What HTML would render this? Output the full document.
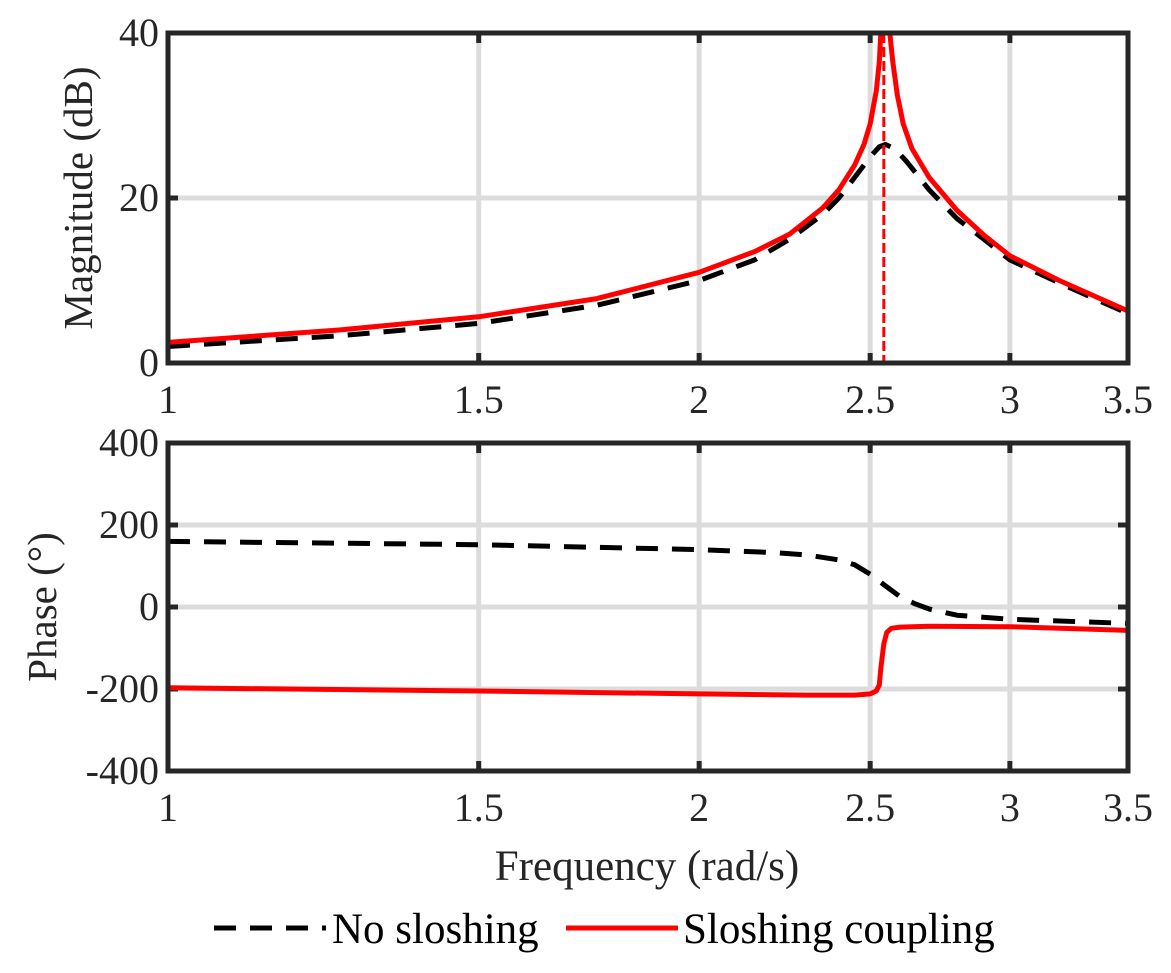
<!DOCTYPE html>
<html><head><meta charset="utf-8"><style>
body{margin:0;background:#fff;}
svg{display:block;font-family:"Liberation Serif",serif;}
</style></head><body>
<svg id="c" width="1171" height="973"></svg>
<script>
const xTicks=[1,1.5,2,2.5,3,3.5];
const xTickLabels=["1","1.5","2","2.5","3","3.5"];
const magTicks=[0,20,40];
const phaseTicks=[-400,-200,0,200,400];
const freqNo=[1,1.25,1.5,1.75,2,2.15,2.25,2.35,2.4,2.45,2.5,2.53,2.55,2.58,2.62,2.7,2.8,2.9,3,3.2,3.5];
const magNo=[2,3.3,4.8,7,10,12.5,15,18,20,22.5,25,26.2,26.5,26,24.5,21,17.5,15,12.5,9.7,6];
const freqSl=[1,1.25,1.5,1.75,2,2.15,2.25,2.35,2.4,2.45,2.48,2.5,2.52,2.53,2.535,2.545,2.555,2.565,2.575,2.59,2.61,2.64,2.7,2.8,2.9,3,3.2,3.5];
const magSl=[2.5,4,5.6,7.8,11,13.5,15.6,18.8,21,24,26.5,29,33,36.5,40,44,44,40,36.5,32.5,29,26,22.5,18.5,15.5,13,10,6.3];
const phFreqNo=[1,1.5,2,2.2,2.3,2.4,2.45,2.5,2.55,2.6,2.65,2.7,2.8,3,3.5];
const phaseNo=[160,152,140,133,127,115,103,80,52,25,8,-5,-20,-30,-40];
const phFreqSl=[1,1.5,2,2.3,2.45,2.5,2.52,2.53,2.535,2.545,2.555,2.57,2.6,2.7,3,3.5];
const phaseSl=[-197,-205,-212,-215,-215,-212,-205,-190,-150,-90,-62,-52,-49,-47,-48,-57];
const markerFreq=2.545;

const NS="http://www.w3.org/2000/svg";
const svg=document.getElementById('c');
function el(t,a,p){const e=document.createElementNS(NS,t);for(const k in a)e.setAttribute(k,a[k]);(p||svg).appendChild(e);return e;}
const X0=168,X1=1128;
const sx=f=>X0+(Math.log10(f)/Math.log10(3.5))*(X1-X0);
const axTop={y0:33,y1:363,min:0,max:40};
const axBot={y0:443,y1:771,min:-400,max:400};
const sy=(ax,v)=>ax.y1-(v-ax.min)/(ax.max-ax.min)*(ax.y1-ax.y0);

function axes(ax,yt,name,ylab,labX){
  const g=el('g',{});
  
  
  const cp=el('clipPath',{id:name+'-clip'},g);
  el('rect',{x:X0,y:ax.y0,width:X1-X0,height:ax.y1-ax.y0},cp);
  xTicks.forEach((t,i)=>{const x=sx(t);
    if(i>0&&i<xTicks.length-1){const l=el('line',{x1:x,x2:x,y1:ax.y0,y2:ax.y1,stroke:'#dcdcdc','stroke-width':5},g);
      }
    el('line',{x1:x,x2:x,y1:ax.y1,y2:ax.y1-10,stroke:'#262626','stroke-width':5},g);
    el('line',{x1:x,x2:x,y1:ax.y0,y2:ax.y0+10,stroke:'#262626','stroke-width':5},g);
    const tx=el('text',{x:x,y:ax.y1+50,'font-size':40,'text-anchor':'middle',fill:'#262626'},g);tx.textContent=xTickLabels[i];
    
  });
  yt.forEach((t,i)=>{const y=sy(ax,t);
    if(i>0&&i<yt.length-1){const l=el('line',{x1:X0,x2:X1,y1:y,y2:y,stroke:'#dcdcdc','stroke-width':5},g);
      }
    el('line',{x1:X0,x2:X0+10,y1:y,y2:y,stroke:'#262626','stroke-width':5},g);
    el('line',{x1:X1,x2:X1-10,y1:y,y2:y,stroke:'#262626','stroke-width':5},g);
    const tx=el('text',{x:X0-9,y:y+13,'font-size':40,'text-anchor':'end',fill:'#262626'},g);tx.textContent=String(t);
    
  });
  const lab=el('text',{x:0,y:0,'font-size':41,'text-anchor':'middle',fill:'#262626',transform:`translate(${labX},${(ax.y0+ax.y1)/2}) rotate(-90)`},g);
  lab.textContent=ylab;
  return g;
}
function line(g,ax,xs,ys,st,name,clip){
  const d=xs.map((f,i)=>(i?'L':'M')+sx(f).toFixed(1)+','+sy(ax,ys[i]).toFixed(1)).join('');
  const p=el('path',Object.assign({d:d,fill:'none','stroke-linejoin':'round','clip-path':`url(#${clip})`},st),g);
  
}
const dash={stroke:'#000','stroke-width':5,'stroke-dasharray':'22,14'};
const red={stroke:'#ff0000','stroke-width':5};
const g1=axes(axTop,magTicks,'magnitude-axes','Magnitude (dB)',92);
line(g1,axTop,freqNo,magNo,dash,'magnitude-no-sloshing','magnitude-axes-clip');
line(g1,axTop,freqSl,magSl,red,'magnitude-sloshing-coupling','magnitude-axes-clip');
const mk=el('line',{x1:sx(markerFreq),x2:sx(markerFreq),y1:axTop.y0,y2:axTop.y1,stroke:'#ff0000','stroke-width':3,'stroke-dasharray':'10,4'},g1);

el('rect',{x:X0,y:axTop.y0,width:X1-X0,height:axTop.y1-axTop.y0,fill:'none',stroke:'#262626','stroke-width':5},g1);
const g2=axes(axBot,phaseTicks,'phase-axes','Phase (°)',56);
line(g2,axBot,phFreqNo,phaseNo,dash,'phase-no-sloshing','phase-axes-clip');
line(g2,axBot,phFreqSl,phaseSl,red,'phase-sloshing-coupling','phase-axes-clip');
el('rect',{x:X0,y:axBot.y0,width:X1-X0,height:axBot.y1-axBot.y0,fill:'none',stroke:'#262626','stroke-width':5},g2);
const xt=el('text',{x:647,y:880,'font-size':43,'text-anchor':'middle',fill:'#262626'});
xt.textContent='Frequency (rad/s)';
const lg=el('g',{});

const e1=el('g',{},lg);
el('line',{x1:214,x2:326,y1:928,y2:928,stroke:'#000','stroke-width':5,'stroke-dasharray':'22,14'},e1);
const t1=el('text',{x:332,y:943,'font-size':43,fill:'#000'},e1);t1.textContent='No sloshing';
const e2=el('g',{},lg);
el('line',{x1:566,x2:678,y1:928,y2:928,stroke:'#ff0000','stroke-width':5},e2);
const t2=el('text',{x:683,y:943,'font-size':43,fill:'#000'},e2);t2.textContent='Sloshing coupling';
</script>
</body></html>
